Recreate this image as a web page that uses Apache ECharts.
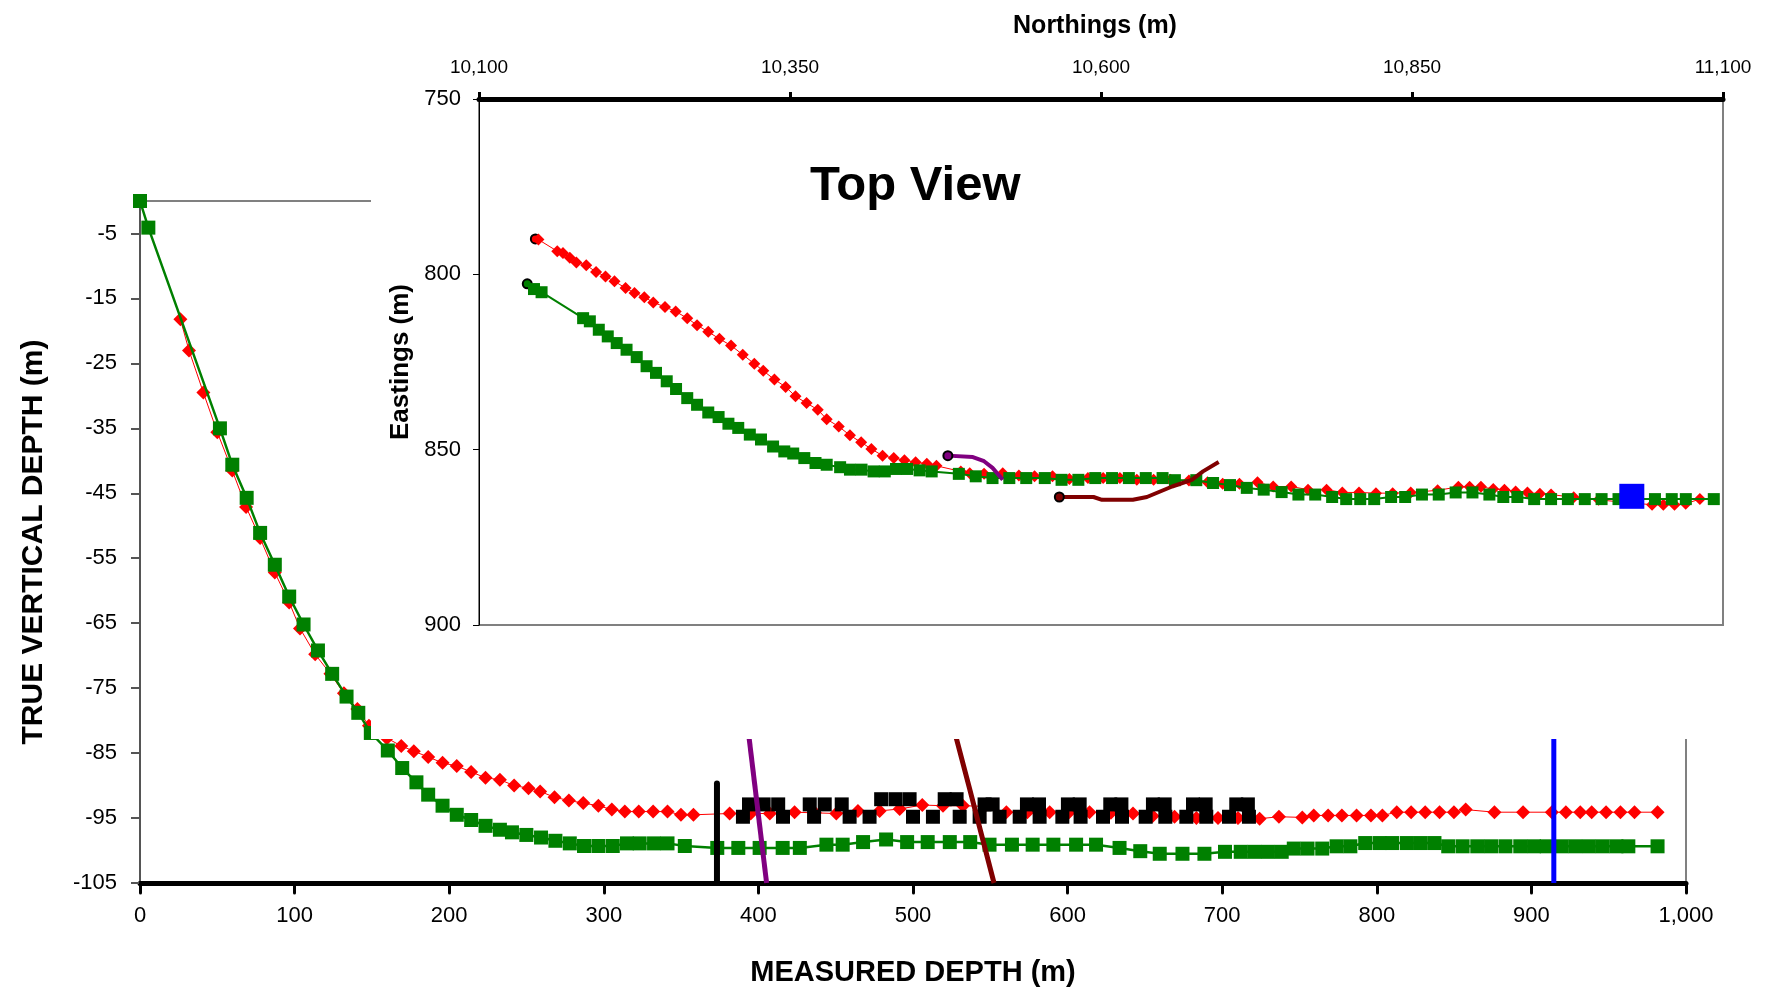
<!DOCTYPE html>
<html>
<head>
<meta charset="utf-8">
<script src="https://cdn.jsdelivr.net/npm/echarts@6/dist/echarts.min.js"></script>
<style>
html,body{margin:0;padding:0;background:#fff;}
#chart{width:1789px;height:993px;}
</style>
</head>
<body>
<div id="chart"></div>
<script>
// ---------- DATA ----------
// Main chart (measured depth m, true vertical depth m)
const mainXTicks = [0, 100, 200, 300, 400, 500, 600, 700, 800, 900, 1000];
const mainYTicks = [-105, -95, -85, -75, -65, -55, -45, -35, -25, -15, -5];

const planRed = [
  [26.1,-18.2],[31.7,-23.0],[41.0,-29.5],[50.0,-35.6],[59.7,-41.5],[68.6,-47.1],
  [77.7,-51.9],[87.2,-57.2],[96.5,-61.8],[103.5,-65.8],[113.3,-69.8],[123.2,-72.8],
  [131.9,-75.8],[140.6,-78.2],[148.1,-80.8],[159.7,-82.7],[169.0,-83.9],[177.1,-84.7],
  [186.4,-85.6],[195.7,-86.5],[204.9,-87.0],[214.2,-87.9],[223.5,-88.8],[232.8,-89.1],
  [242.0,-90.0],[251.3,-90.4],[258.8,-90.9],[268.1,-91.8],[277.4,-92.3],[286.7,-92.7],
  [296.5,-93.1],[305.2,-93.7],[313.6,-94.0],[322.6,-94.0],[331.9,-94.0],[341.2,-94.0],
  [349.9,-94.5],[358.0,-94.5],[381.4,-94.3],[395.0,-94.3],[407.4,-94.3],[423.4,-94.1],
  [436.5,-94.2],[450.4,-94.3],[464.4,-93.9],[478.4,-93.9],[491.4,-93.6],[506.0,-93.0],
  [519.4,-93.1],[532.3,-93.1],[546.3,-93.2],[560.4,-94.1],[574.0,-94.1],[588.4,-94.1],
  [601.0,-94.1],[614.2,-94.1],[628.0,-94.2],[642.3,-94.3],[655.0,-94.7],[669.2,-94.8],
  [683.3,-95.0],[697.3,-95.0],[710.2,-95.0],[724.2,-95.1],[736.7,-94.8],[751.8,-94.9],
  [759.2,-94.6],[768.5,-94.6],[777.4,-94.6],[786.9,-94.6],[796.2,-94.6],[803.6,-94.6],
  [812.9,-94.1],[822.2,-94.1],[831.3,-94.1],[840.6,-94.1],[849.9,-94.1],[857.5,-93.7],
  [876.1,-94.1],[894.6,-94.1],[913.2,-94.1],[922.3,-94.1],[931.6,-94.1],[939.0,-94.1],
  [948.3,-94.1],[957.6,-94.1],[966.7,-94.1],[981.6,-94.1]
];

const actualGreen = [
  [0,0],[5.4,-4.1],[51.7,-35.0],[59.7,-40.6],[69.0,-45.7],[77.7,-51.1],[87.2,-56.0],
  [96.5,-60.9],[105.8,-65.2],[115.1,-69.2],[124.3,-72.8],[133.6,-76.3],[141.2,-78.8],
  [149.3,-81.9],[160.3,-84.6],[169.6,-87.3],[178.8,-89.5],[186.4,-91.4],[195.7,-93.1],
  [204.9,-94.5],[214.2,-95.3],[223.5,-96.2],[232.8,-96.8],[240.6,-97.2],[249.9,-97.6],
  [259.4,-98.0],[268.7,-98.5],[278.0,-98.9],[287.2,-99.3],[296.5,-99.3],[305.8,-99.3],
  [315.0,-98.9],[323.2,-98.9],[332.5,-98.9],[341.2,-98.9],[352.4,-99.3],[373.4,-99.6],
  [387.0,-99.6],[400.8,-99.6],[415.7,-99.6],[426.8,-99.6],[444.0,-99.1],[454.5,-99.1],
  [467.7,-98.7],[482.6,-98.3],[496.2,-98.7],[509.5,-98.7],[523.8,-98.7],[537.0,-98.7],
  [549.5,-99.1],[564.0,-99.1],[577.4,-99.1],[590.8,-99.1],[605.5,-99.1],[618.4,-99.1],
  [633.6,-99.6],[647.0,-100.1],[659.6,-100.5],[674.3,-100.5],[688.5,-100.5],[701.8,-100.2],
  [712.0,-100.2],[720.8,-100.2],[729.6,-100.2],[738.5,-100.2],[746.3,-99.7],[755.2,-99.7],
  [764.7,-99.7],[774.0,-99.35],[782.9,-99.35],[792.5,-98.85],[801.8,-98.85],[810.0,-98.85],
  [819.5,-98.85],[828.4,-98.85],[837.3,-98.85],[846.2,-99.35],[855.5,-99.35],[865.0,-99.35],
  [873.9,-99.35],[883.2,-99.35],[892.8,-99.35],[901.7,-99.35],[909.9,-99.35],[919.4,-99.35],
  [928.3,-99.35],[937.2,-99.35],[946.1,-99.35],[955.0,-99.35],[962.7,-99.35],[981.6,-99.35]
];

const blackMarks = [
  [390.0,-94.8],[393.9,-92.9],[403.4,-92.9],[412.8,-92.9],[415.9,-94.8],
  [436.0,-94.8],[433.2,-92.9],[442.9,-92.9],[453.9,-92.9],[459.0,-94.8],
  [471.9,-94.8],
  [479.4,-92.1],[488.7,-92.1],[497.8,-92.1],[500.0,-94.8],
  [512.9,-94.8],
  [520.5,-92.1],[528.2,-92.1],[530.2,-94.8],
  [543.1,-94.8],[546.3,-92.9],[551.5,-92.9],[556.0,-94.8],
  [569.0,-94.8],[573.7,-92.9],[581.5,-92.9],[581.9,-94.8],
  [596.6,-94.8],[600.2,-92.9],[607.8,-92.9],[608.4,-94.8],
  [622.9,-94.8],[627.6,-92.9],[634.8,-92.9],[635.2,-94.8],
  [650.5,-94.8],[655.2,-92.9],[662.8,-92.9],[663.2,-94.8],
  [676.8,-94.8],[681.1,-92.9],[689.3,-92.9],[689.7,-94.8],
  [704.4,-94.8],[709.1,-92.9],[716.6,-92.9],[717.3,-94.8]
];

const kickoffBlack = [[373.2,-89.7],[373.2,-105]];
const faultPurple  = [[390.1,-75],[405.3,-105]];
const faultMaroon  = [[519.5,-75],[536.3,-90.2],[552.4,-105]];
const targetBlue   = [[914.5,-75],[914.5,-105]];

// Inset "Top View" (northings m, eastings m)
const insetXTicks = [10100, 10350, 10600, 10850, 11100];
const insetYTicks = [750, 800, 850, 900];

const topRed = [
  [10145.3,789.9],[10147.8,790.1],[10162.9,793.4],[10167.5,793.9],[10173.0,795.3],[10178.3,796.6],
  [10186.2,797.4],[10194.1,799.3],[10201.7,800.6],[10208.9,802.0],[10217.8,803.9],[10225.0,805.3],
  [10232.9,806.5],[10240.1,808.0],[10249.5,809.3],[10258.1,810.6],[10267.4,812.5],[10275.3,814.5],
  [10284.3,816.4],[10293.3,818.4],[10302.6,820.3],[10312.0,822.9],[10321.3,825.5],[10328.5,827.5],
  [10337.5,830.0],[10346.5,832.1],[10354.4,834.8],[10363.3,836.7],[10372.3,838.6],[10379.5,841.3],
  [10389.2,843.4],[10398.2,845.9],[10407.2,847.9],[10415.4,849.8],[10424.4,851.7],[10433.4,852.4],
  [10442.0,853.0],[10451.0,853.6],[10460.0,854.0],[10467.7,854.6],[10487.3,856.2],[10494.5,856.7],
  [10506.0,856.9],[10521.0,856.7],[10534.0,857.4],[10546.6,857.6],[10561.0,857.6],[10574.6,858.4],
  [10589.5,858.1],[10601.7,858.1],[10615.2,858.1],[10628.8,858.6],[10642.3,858.6],[10655.8,858.6],
  [10670.7,858.8],[10685.6,859.3],[10697.8,859.7],[10711.3,859.7],[10725.8,859.3],[10738.4,860.5],
  [10752.9,860.5],[10766.4,861.4],[10781.3,861.4],[10794.0,862.2],[10807.4,862.2],[10821.0,862.4],
  [10834.5,862.4],[10849.0,862.2],[10870.6,861.6],[10887.3,860.6],[10896.3,860.6],[10905.4,860.6],
  [10915.3,861.2],[10924.3,861.4],[10933.3,861.9],[10942.8,862.2],[10952.8,862.6],[10961.8,862.8],
  [10980.0,863.6],[11000.0,864.3],[11020.0,865.0],[11043.0,865.7],[11052.0,865.7],[11061.0,865.7],
  [11070.0,865.4],[11081.4,864.1]
];

const topGreen = [
  [10138.8,802.7],[10144.2,804.2],[10150.3,805.1],[10183.7,812.5],[10189.1,813.4],[10196.3,815.8],
  [10203.5,817.7],[10210.7,819.6],[10218.6,821.5],[10226.8,823.6],[10234.7,826.2],[10242.3,828.1],
  [10250.9,830.5],[10258.4,832.7],[10267.4,835.3],[10275.3,837.2],[10284.3,839.4],[10292.6,840.7],
  [10300.5,842.6],[10308.4,843.8],[10317.7,845.7],[10326.7,847.1],[10336.4,849.1],[10345.4,850.5],
  [10352.6,851.1],[10361.5,852.4],[10370.5,853.8],[10379.5,854.3],[10390.3,855.0],[10398.2,855.7],
  [10407.5,855.7],[10417.2,856.2],[10426.2,856.2],[10435.2,855.5],[10444.2,855.5],[10454.2,855.9],
  [10463.9,856.2],[10485.7,856.9],[10499.3,857.6],[10512.8,858.1],[10526.3,858.1],[10539.9,858.1],
  [10554.8,858.1],[10568.3,858.6],[10581.8,858.6],[10595.4,858.1],[10608.9,858.1],[10622.4,858.1],
  [10636.0,858.1],[10649.5,858.1],[10659.4,858.7],[10676.6,858.7],[10690.1,859.5],[10703.7,860.1],
  [10717.2,860.9],[10730.8,861.4],[10745.2,862.1],[10758.7,862.8],[10772.2,862.8],[10785.8,863.5],
  [10797.1,864.1],[10808.4,864.1],[10819.6,864.1],[10833.2,863.5],[10844.5,863.5],[10858.0,862.8],
  [10871.5,862.8],[10885.1,862.2],[10898.6,862.2],[10912.2,862.8],[10923.4,863.5],[10934.7,863.5],
  [10948.2,864.1],[10961.8,864.1],[10975.3,864.1],[10988.9,864.1],[11002.4,864.1],[11016.0,864.1],
  [11030.0,864.1],[11045.3,864.1],[11058.8,864.1],[11070.1,864.1],[11092.6,864.1]
];

const topPurple = [[10476.9,851.7],[10497.0,852.1],[10506.0,853.3],[10512.8,855.2],[10521.0,858.6]];
const topMaroon = [[10566.5,863.5],[10594.0,863.5],[10600.8,864.3],[10625.6,864.3],[10636.9,863.5],
                   [10657.2,860.5],[10673.0,858.6],[10682.0,856.2],[10694.6,853.5]];
const topBlue = [[11026.7,863.3]];

// ---------- CHART ----------
const FONT = "'Liberation Sans', Arial, Helvetica, sans-serif";
const comma = v => Number(v).toLocaleString('en-US');

function withStartMarker(arr, color, restSymbol, restSize) {
  return arr.map((p, i) => i === 0
    ? { value: p, symbol: 'circle', symbolSize: 9,
        itemStyle: { color: color, borderColor: '#000', borderWidth: 2, opacity: 1 } }
    : { value: p, symbol: restSymbol, symbolSize: restSize });
}

const chart = echarts.init(document.getElementById('chart'), null, { renderer: 'canvas' });

chart.setOption({
  animation: false,
  backgroundColor: '#fff',
  textStyle: { fontFamily: FONT },
  title: [
    { text: 'Northings (m)', left: 1090, top: 9, textAlign: 'center', zlevel: 2,
      textStyle: { fontFamily: FONT, fontSize: 25, fontWeight: 'bold', color: '#000' } },
    { text: 'Top View', left: 805, top: 157, zlevel: 2,
      textStyle: { fontFamily: FONT, fontSize: 49, fontWeight: 'bold', color: '#000' } }
  ],
  graphic: [
    { type: 'rect', zlevel: 1, silent: true,
      shape: { x: 371, y: 0, width: 1500, height: 739 },
      style: { fill: '#ffffff' } }
  ],
  grid: [
    { left: 140, top: 201, width: 1546, height: 682, show: true,
      borderColor: '#808080', borderWidth: 2, backgroundColor: 'transparent', zlevel: 0 },
    { left: 479, top: 99, width: 1244, height: 526, show: true,
      borderColor: '#808080', borderWidth: 2, backgroundColor: 'transparent', zlevel: 2 }
  ],
  xAxis: [
    { type: 'value', gridIndex: 0, position: 'bottom', min: 0, max: 1000, interval: 100,
      zlevel: 0,
      axisLine: { onZero: false, lineStyle: { color: '#000', width: 5 } },
      axisTick: { length: 10, lineStyle: { color: '#000', width: 3, cap: 'round' } },
      axisLabel: { fontFamily: FONT, fontSize: 22, color: '#000', margin: 22, formatter: comma },
      splitLine: { show: false },
      name: 'MEASURED DEPTH (m)', nameLocation: 'middle', nameGap: 75,
      nameTextStyle: { fontFamily: FONT, fontSize: 29, fontWeight: 'bold', color: '#000' } },
    { type: 'value', gridIndex: 1, position: 'top', min: 10100, max: 11100,
      zlevel: 2,
      axisLine: { onZero: false, lineStyle: { color: '#000', width: 5 } },
      axisTick: { customValues: insetXTicks, length: 7, lineStyle: { color: '#000', width: 3 } },
      axisLabel: { customValues: insetXTicks, fontFamily: FONT,
                   fontSize: 19, color: '#000', margin: 22, formatter: comma },
      splitLine: { show: false } }
  ],
  yAxis: [
    { type: 'value', gridIndex: 0, min: -105, max: 0, zlevel: 0,
      axisLine: { onZero: false, lineStyle: { color: '#555', width: 2 } },
      axisTick: { customValues: mainYTicks, length: 9, lineStyle: { color: '#555', width: 2 } },
      axisLabel: { customValues: mainYTicks, fontFamily: FONT, fontSize: 22, color: '#000', margin: 23 },
      splitLine: { show: false },
      name: 'TRUE VERTICAL DEPTH (m)', nameLocation: 'middle', nameGap: 91,
      nameTextStyle: { fontFamily: FONT, fontSize: 30, fontWeight: 'bold', color: '#000' } },
    { type: 'value', gridIndex: 1, min: 750, max: 900, interval: 50, inverse: true, zlevel: 2,
      axisLine: { onZero: false, lineStyle: { color: '#000', width: 1 } },
      axisTick: { length: 6, lineStyle: { color: '#000', width: 1 } },
      axisLabel: { fontFamily: FONT, fontSize: 22, color: '#000', margin: 18 },
      splitLine: { show: false },
      name: 'Eastings (m)', nameLocation: 'middle', nameGap: 61,
      nameTextStyle: { fontFamily: FONT, fontSize: 26, fontWeight: 'bold', color: '#000' } }
  ],
  series: [
    // ---- main chart ----
    { name: 'Plan', type: 'line', xAxisIndex: 0, yAxisIndex: 0, zlevel: 0, z: 2,
      data: planRed, symbol: 'diamond', symbolSize: 14,
      lineStyle: { color: '#ff0000', width: 1 }, itemStyle: { color: '#ff0000', opacity: 1 } },
    { name: 'Marks', type: 'scatter', xAxisIndex: 0, yAxisIndex: 0, zlevel: 0, z: 3,
      data: blackMarks, symbol: 'rect', symbolSize: 14, itemStyle: { color: '#000', opacity: 1 } },
    { name: 'Actual', type: 'line', xAxisIndex: 0, yAxisIndex: 0, zlevel: 0, z: 4,
      data: actualGreen, symbol: 'rect', symbolSize: 14,
      lineStyle: { color: '#008000', width: 2.5 }, itemStyle: { color: '#008000', opacity: 1 } },
    { name: 'Kickoff', type: 'line', xAxisIndex: 0, yAxisIndex: 0, zlevel: 0, z: 5,
      data: kickoffBlack, symbol: 'none',
      lineStyle: { color: '#000', width: 6, cap: 'round' } },
    { name: 'Fault A', type: 'line', xAxisIndex: 0, yAxisIndex: 0, zlevel: 0, z: 5,
      data: faultPurple, symbol: 'none', lineStyle: { color: '#800080', width: 5 } },
    { name: 'Fault B', type: 'line', xAxisIndex: 0, yAxisIndex: 0, zlevel: 0, z: 5,
      data: faultMaroon, symbol: 'none', lineStyle: { color: '#800000', width: 5 } },
    { name: 'Target', type: 'line', xAxisIndex: 0, yAxisIndex: 0, zlevel: 0, z: 5,
      data: targetBlue, symbol: 'none', lineStyle: { color: '#0000ff', width: 5 } },
    // ---- inset top view ----
    { name: 'Plan TV', type: 'line', xAxisIndex: 1, yAxisIndex: 1, zlevel: 2, z: 2,
      data: withStartMarker(topRed, '#ff0000', 'diamond', 12),
      lineStyle: { color: '#ff0000', width: 1 }, itemStyle: { color: '#ff0000', opacity: 1 } },
    { name: 'Actual TV', type: 'line', xAxisIndex: 1, yAxisIndex: 1, zlevel: 2, z: 3,
      data: withStartMarker(topGreen, '#008000', 'rect', 12),
      lineStyle: { color: '#008000', width: 2 }, itemStyle: { color: '#008000', opacity: 1 } },
    { name: 'Fault A TV', type: 'line', xAxisIndex: 1, yAxisIndex: 1, zlevel: 2, z: 4,
      data: withStartMarker(topPurple, '#800080', 'none', 0),
      lineStyle: { color: '#800080', width: 4 }, itemStyle: { color: '#800080', opacity: 1 } },
    { name: 'Fault B TV', type: 'line', xAxisIndex: 1, yAxisIndex: 1, zlevel: 2, z: 4,
      data: withStartMarker(topMaroon, '#800000', 'none', 0),
      lineStyle: { color: '#800000', width: 4 }, itemStyle: { color: '#800000', opacity: 1 } },
    { name: 'Target TV', type: 'scatter', xAxisIndex: 1, yAxisIndex: 1, zlevel: 2, z: 5,
      data: topBlue, symbol: 'rect', symbolSize: 25, itemStyle: { color: '#0000ff', opacity: 1 } }
  ]
});
</script>
</body>
</html>
